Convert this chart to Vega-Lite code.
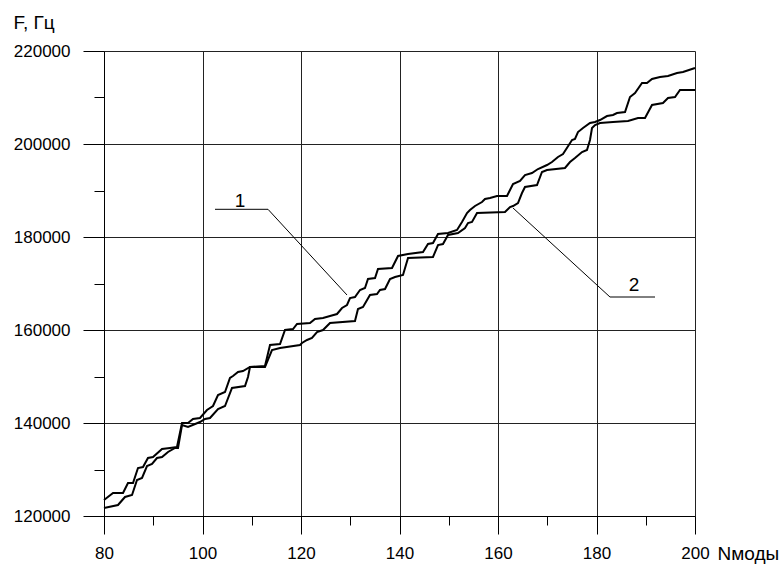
{
  "$schema": "https://vega.github.io/schema/vega-lite/v6.json",
  "width": 591,
  "height": 465,
  "autosize": "none",
  "padding": {"left": 104, "top": 51, "right": 89, "bottom": 49},
  "background": "white",
  "config": {
    "view": {"stroke": null},
    "font": "Liberation Sans"
  },
  "datasets": {
    "curves": [
      {"s": "1", "N": 80.0, "F": 123441}, {"s": "1", "N": 81.83, "F": 124946}, {"s": "1", "N": 83.86, "F": 124946},
      {"s": "1", "N": 84.87, "F": 127097}, {"s": "1", "N": 85.89, "F": 127097}, {"s": "1", "N": 86.9, "F": 130322},
      {"s": "1", "N": 87.92, "F": 130537}, {"s": "1", "N": 88.93, "F": 132473}, {"s": "1", "N": 89.95, "F": 132688},
      {"s": "1", "N": 91.78, "F": 134408}, {"s": "1", "N": 93.4, "F": 134623}, {"s": "1", "N": 94.82, "F": 134838},
      {"s": "1", "N": 95.84, "F": 139999}, {"s": "1", "N": 97.06, "F": 139999}, {"s": "1", "N": 98.07, "F": 140860},
      {"s": "1", "N": 99.49, "F": 141075}, {"s": "1", "N": 100.91, "F": 142795}, {"s": "1", "N": 102.13, "F": 143656},
      {"s": "1", "N": 103.15, "F": 146021}, {"s": "1", "N": 104.57, "F": 146666}, {"s": "1", "N": 105.58, "F": 149677},
      {"s": "1", "N": 106.19, "F": 150107}, {"s": "1", "N": 107.21, "F": 150967}, {"s": "1", "N": 108.22, "F": 151182},
      {"s": "1", "N": 109.64, "F": 152042}, {"s": "1", "N": 112.69, "F": 152258}, {"s": "1", "N": 113.71, "F": 156774},
      {"s": "1", "N": 115.74, "F": 156989}, {"s": "1", "N": 116.75, "F": 159999}, {"s": "1", "N": 118.38, "F": 160214},
      {"s": "1", "N": 119.19, "F": 161290}, {"s": "1", "N": 121.83, "F": 161505}, {"s": "1", "N": 122.84, "F": 162365},
      {"s": "1", "N": 124.47, "F": 162580}, {"s": "1", "N": 125.89, "F": 163010}, {"s": "1", "N": 127.31, "F": 163440},
      {"s": "1", "N": 128.33, "F": 164730}, {"s": "1", "N": 129.34, "F": 165376}, {"s": "1", "N": 129.95, "F": 166881},
      {"s": "1", "N": 130.96, "F": 167096}, {"s": "1", "N": 131.98, "F": 168601}, {"s": "1", "N": 132.99, "F": 169031},
      {"s": "1", "N": 133.6, "F": 170967}, {"s": "1", "N": 135.03, "F": 171182}, {"s": "1", "N": 135.63, "F": 173117},
      {"s": "1", "N": 138.48, "F": 173332}, {"s": "1", "N": 139.7, "F": 175913}, {"s": "1", "N": 141.73, "F": 176343},
      {"s": "1", "N": 144.77, "F": 176773}, {"s": "1", "N": 145.79, "F": 178494}, {"s": "1", "N": 146.8, "F": 178709},
      {"s": "1", "N": 147.82, "F": 180644}, {"s": "1", "N": 149.85, "F": 180859}, {"s": "1", "N": 151.68, "F": 181504},
      {"s": "1", "N": 152.69, "F": 183225}, {"s": "1", "N": 153.71, "F": 185160}, {"s": "1", "N": 154.31, "F": 185805},
      {"s": "1", "N": 155.33, "F": 186666}, {"s": "1", "N": 156.75, "F": 187526}, {"s": "1", "N": 157.36, "F": 188171},
      {"s": "1", "N": 158.38, "F": 188386}, {"s": "1", "N": 159.8, "F": 188816}, {"s": "1", "N": 161.83, "F": 188816},
      {"s": "1", "N": 163.05, "F": 191397}, {"s": "1", "N": 164.47, "F": 192042}, {"s": "1", "N": 165.48, "F": 193332},
      {"s": "1", "N": 166.9, "F": 193762}, {"s": "1", "N": 168.12, "F": 194622}, {"s": "1", "N": 169.95, "F": 195483},
      {"s": "1", "N": 170.96, "F": 196128}, {"s": "1", "N": 172.18, "F": 197203}, {"s": "1", "N": 173.2, "F": 197848},
      {"s": "1", "N": 175.03, "F": 200859}, {"s": "1", "N": 175.63, "F": 201074}, {"s": "1", "N": 176.24, "F": 202579},
      {"s": "1", "N": 177.26, "F": 203439}, {"s": "1", "N": 178.68, "F": 204515}, {"s": "1", "N": 179.7, "F": 204730},
      {"s": "1", "N": 180.71, "F": 205160}, {"s": "1", "N": 182.13, "F": 206020}, {"s": "1", "N": 183.35, "F": 206235},
      {"s": "1", "N": 184.16, "F": 206665}, {"s": "1", "N": 185.79, "F": 206880}, {"s": "1", "N": 186.8, "F": 210106},
      {"s": "1", "N": 187.82, "F": 210966}, {"s": "1", "N": 189.24, "F": 213116}, {"s": "1", "N": 190.25, "F": 213116},
      {"s": "1", "N": 191.27, "F": 213977}, {"s": "1", "N": 192.89, "F": 214407}, {"s": "1", "N": 194.52, "F": 214622},
      {"s": "1", "N": 196.35, "F": 215267}, {"s": "1", "N": 197.56, "F": 215482}, {"s": "1", "N": 200.0, "F": 216342},

      {"s": "2", "N": 80.0, "F": 121720}, {"s": "2", "N": 82.84, "F": 122366}, {"s": "2", "N": 84.26, "F": 124086},
      {"s": "2", "N": 85.69, "F": 124516}, {"s": "2", "N": 86.7, "F": 127742}, {"s": "2", "N": 87.72, "F": 128172},
      {"s": "2", "N": 88.73, "F": 130752}, {"s": "2", "N": 89.75, "F": 131183}, {"s": "2", "N": 90.76, "F": 132473},
      {"s": "2", "N": 91.78, "F": 132688}, {"s": "2", "N": 93.0, "F": 133763}, {"s": "2", "N": 94.42, "F": 134623},
      {"s": "2", "N": 95.03, "F": 134623}, {"s": "2", "N": 95.84, "F": 139570}, {"s": "2", "N": 97.06, "F": 139139},
      {"s": "2", "N": 99.49, "F": 140215}, {"s": "2", "N": 100.51, "F": 140860}, {"s": "2", "N": 101.52, "F": 141075},
      {"s": "2", "N": 103.15, "F": 143010}, {"s": "2", "N": 104.57, "F": 143656}, {"s": "2", "N": 105.99, "F": 147526},
      {"s": "2", "N": 108.63, "F": 147957}, {"s": "2", "N": 109.24, "F": 149892}, {"s": "2", "N": 109.64, "F": 152042},
      {"s": "2", "N": 112.69, "F": 152042}, {"s": "2", "N": 114.11, "F": 155698}, {"s": "2", "N": 115.74, "F": 156128},
      {"s": "2", "N": 119.8, "F": 156774}, {"s": "2", "N": 120.2, "F": 157204}, {"s": "2", "N": 121.22, "F": 157849},
      {"s": "2", "N": 122.23, "F": 158279}, {"s": "2", "N": 123.25, "F": 159569}, {"s": "2", "N": 124.47, "F": 159999},
      {"s": "2", "N": 125.89, "F": 161505}, {"s": "2", "N": 130.96, "F": 161935}, {"s": "2", "N": 131.57, "F": 164515},
      {"s": "2", "N": 132.59, "F": 164945}, {"s": "2", "N": 134.01, "F": 167526}, {"s": "2", "N": 135.43, "F": 167741},
      {"s": "2", "N": 136.04, "F": 168601}, {"s": "2", "N": 137.06, "F": 168816}, {"s": "2", "N": 138.07, "F": 170967},
      {"s": "2", "N": 139.09, "F": 171397}, {"s": "2", "N": 140.71, "F": 171827}, {"s": "2", "N": 141.73, "F": 175483},
      {"s": "2", "N": 146.8, "F": 175698}, {"s": "2", "N": 147.82, "F": 178279}, {"s": "2", "N": 148.83, "F": 178494},
      {"s": "2", "N": 149.85, "F": 180429}, {"s": "2", "N": 151.88, "F": 180859}, {"s": "2", "N": 153.3, "F": 181934},
      {"s": "2", "N": 153.91, "F": 183010}, {"s": "2", "N": 154.72, "F": 183225}, {"s": "2", "N": 155.74, "F": 185160},
      {"s": "2", "N": 161.42, "F": 185375}, {"s": "2", "N": 162.44, "F": 186450}, {"s": "2", "N": 163.05, "F": 186666},
      {"s": "2", "N": 164.06, "F": 187311}, {"s": "2", "N": 164.87, "F": 189461}, {"s": "2", "N": 165.48, "F": 190751},
      {"s": "2", "N": 167.92, "F": 191182}, {"s": "2", "N": 168.93, "F": 193977}, {"s": "2", "N": 169.95, "F": 194407},
      {"s": "2", "N": 173.6, "F": 194837}, {"s": "2", "N": 174.62, "F": 196128}, {"s": "2", "N": 175.63, "F": 196988},
      {"s": "2", "N": 177.06, "F": 198278}, {"s": "2", "N": 178.07, "F": 198708}, {"s": "2", "N": 178.68, "F": 200859},
      {"s": "2", "N": 179.09, "F": 203439}, {"s": "2", "N": 179.7, "F": 204085}, {"s": "2", "N": 180.71, "F": 204515},
      {"s": "2", "N": 183.35, "F": 204730}, {"s": "2", "N": 186.4, "F": 204945}, {"s": "2", "N": 188.43, "F": 205590},
      {"s": "2", "N": 189.85, "F": 205590}, {"s": "2", "N": 191.27, "F": 208386}, {"s": "2", "N": 193.5, "F": 208816},
      {"s": "2", "N": 194.52, "F": 209891}, {"s": "2", "N": 195.94, "F": 210106}, {"s": "2", "N": 196.95, "F": 211612},
      {"s": "2", "N": 200.0, "F": 211612}
    ],
    "leaders": [
      {"id": "1", "o": 1, "N": 102.54, "F": 185955},
      {"id": "1", "o": 2, "N": 113.3, "F": 185955},
      {"id": "1", "o": 3, "N": 129.34, "F": 167526},
      {"id": "2", "o": 1, "N": 163.05, "F": 186235},
      {"id": "2", "o": 2, "N": 182.74, "F": 167096},
      {"id": "2", "o": 3, "N": 191.88, "F": 167096}
    ],
    "labels": [
      {"t": "1", "N": 107.6, "F": 186500},
      {"t": "2", "N": 187.6, "F": 168400}
    ]
  },
  "layer": [
    {
      "data": {"name": "curves"},
      "mark": {"type": "line", "color": "#000", "strokeWidth": 2, "interpolate": "linear"},
      "encoding": {
        "x": {
          "field": "N", "type": "quantitative",
          "scale": {"domain": [80, 200], "nice": false, "zero": false},
          "axis": {
            "values": [80, 90, 100, 110, 120, 130, 140, 150, 160, 170, 180, 190, 200],
            "grid": true,
            "gridColor": "#222",
            "gridWidth": 1,
            "gridOpacity": {"condition": {"test": "datum.value % 20 === 0", "value": 1}, "value": 0},
            "tickSize": {"condition": {"test": "datum.value % 20 === 0", "value": 18}, "value": 9},
            "tickColor": "#000",
            "domainColor": "#000",
            "labelExpr": "datum.value % 20 === 0 ? datum.label : ''",
            "labelFont": "Liberation Sans",
            "labelFontSize": 17,
            "labelColor": "#000",
            "labelPadding": 11,
            "labelFlush": false,
            "labelOverlap": false,
            "title": "Nмоды",
            "titleFont": "Liberation Sans",
            "titleFontSize": 19,
            "titleFontWeight": "normal",
            "titleColor": "#000",
            "titleX": 613,
            "titleY": 43,
            "titleAlign": "left",
            "titleBaseline": "alphabetic",
            "titleAnchor": null
          }
        },
        "y": {
          "field": "F", "type": "quantitative",
          "scale": {"domain": [120000, 220000], "nice": false, "zero": false},
          "axis": {
            "values": [120000, 130000, 140000, 150000, 160000, 170000, 180000, 190000, 200000, 210000, 220000],
            "grid": true,
            "gridColor": "#222",
            "gridWidth": 1,
            "gridOpacity": {"condition": {"test": "datum.value % 20000 === 0", "value": 1}, "value": 0},
            "tickSize": {"condition": {"test": "datum.value % 20000 === 0", "value": 21}, "value": 10},
            "tickColor": "#000",
            "domainColor": "#000",
            "labelExpr": "datum.value % 20000 === 0 ? format(datum.value, 'd') : ''",
            "labelFont": "Liberation Sans",
            "labelFontSize": 17,
            "labelColor": "#000",
            "labelPadding": 13,
            "labelOverlap": false,
            "labelFlush": false,
            "title": "F, Гц",
            "titleFont": "Liberation Sans",
            "titleFontSize": 19,
            "titleFontWeight": "normal",
            "titleColor": "#000",
            "titleAngle": 0,
            "titleX": -91,
            "titleY": -23,
            "titleAlign": "left",
            "titleBaseline": "alphabetic",
            "titleAnchor": null
          }
        },
        "detail": {"field": "s", "type": "nominal"}
      }
    },
    {
      "data": {"name": "leaders"},
      "mark": {"type": "line", "color": "#000", "strokeWidth": 1},
      "encoding": {
        "x": {"field": "N", "type": "quantitative"},
        "y": {"field": "F", "type": "quantitative"},
        "detail": {"field": "id", "type": "nominal"},
        "order": {"field": "o", "type": "quantitative"}
      }
    },
    {
      "data": {"name": "labels"},
      "mark": {"type": "text", "font": "Liberation Sans", "fontSize": 19, "color": "#000", "align": "center", "baseline": "alphabetic"},
      "encoding": {
        "x": {"field": "N", "type": "quantitative"},
        "y": {"field": "F", "type": "quantitative"},
        "text": {"field": "t", "type": "nominal"}
      }
    }
  ]
}
